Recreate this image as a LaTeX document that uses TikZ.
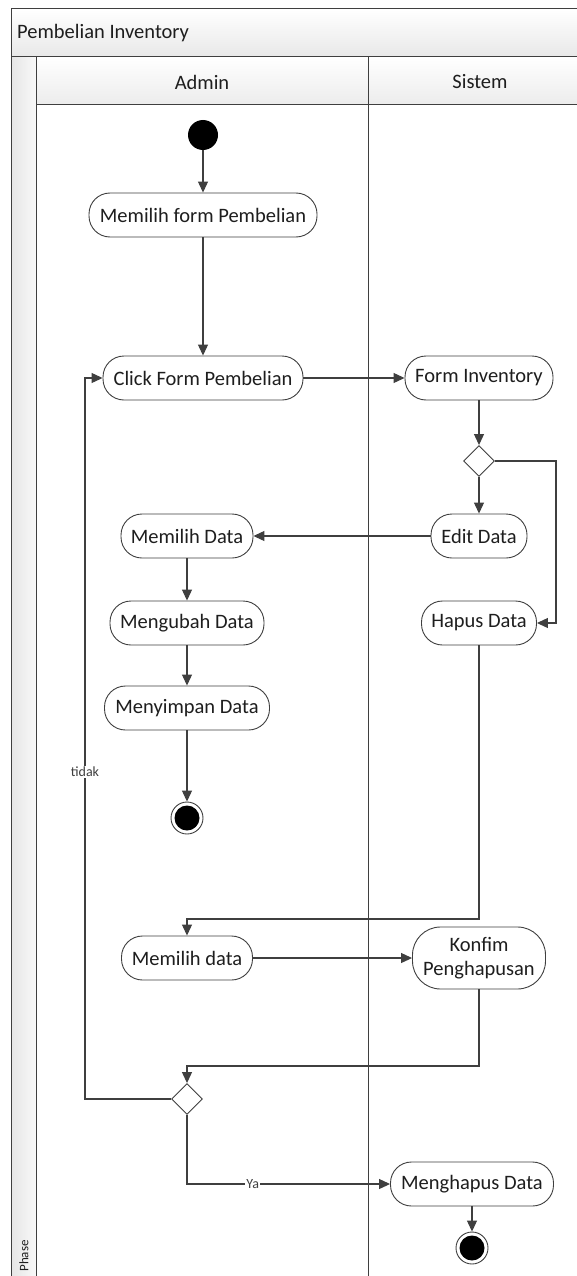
\documentclass[tikz,border=0pt]{standalone}
\usepackage{fontspec}
\setmainfont{Carlito}
\usetikzlibrary{arrows.meta, shapes.geometric}
\definecolor{garis}{HTML}{3F3F3F}
\definecolor{teks}{HTML}{1E1E1E}

\begin{document}
\begin{tikzpicture}[x=1pt, y=-1pt, >={Triangle[length=11pt,width=10pt]},
    aksi/.style={draw=garis, line width=0.9pt, fill=white, rectangle, rounded corners=21pt,
        minimum height=44pt, inner sep=0pt, align=center, text=teks,
        font=\fontsize{20.5}{24}\selectfont},
    keputusan/.style={draw=garis, line width=0.9pt, fill=white, diamond, aspect=1,
        minimum width=31pt, minimum height=31pt, inner sep=0pt},
    mulai/.style={circle, fill=black, minimum size=30pt, inner sep=0pt},
    akhir/.style={circle, draw=garis, line width=0.9pt, fill=white, minimum size=32pt, inner sep=0pt,
        path picture={\fill[black] (path picture bounding box.center) circle (12.5pt);}},
    alur/.style={draw=garis, line width=1.1pt, ->},
    tanda/.style={fill=white, inner sep=1pt, text=garis, font=\fontsize{14}{16}\selectfont},
    judul/.style={text=teks, font=\fontsize{20.5}{24}\selectfont}]
    \useasboundingbox (0,0) rectangle (577,1276);

    % kerangka swimlane
    \shade[top color=white, bottom color=gray!18, draw=garis, line width=1pt] (11,9) rectangle (600,57);
    \shade[left color=gray!20, right color=gray!5, draw=garis, line width=1pt] (11,57) rectangle (36,1300);
    \shade[top color=white, bottom color=gray!15, draw=garis, line width=1pt] (36,57) rectangle (600,105);
    \draw[garis, line width=1pt] (368,57) -- (368,1300);
    \node[judul, anchor=west, inner sep=0pt] (proses) at (17,33) {Pembelian Inventory};
    \node[judul] (laneAdmin) at (202,82) {Admin};
    \node[judul] (laneSistem) at (480,82) {Sistem};
    \node[rotate=90, text=teks, font=\fontsize{13}{15}\selectfont] (fase) at (24,1256) {Phase};

    % aktivitas
    \node[mulai] (start) at (203,135) {};
    \node[aksi, minimum width=228pt] (pilihForm) at (203,215) {Memilih form Pembelian};
    \node[aksi, minimum width=200pt] (clickForm) at (203,378) {Click Form Pembelian};
    \node[aksi, minimum width=148pt] (formInv) at (479,378) {Form Inventory};
    \node[keputusan] (dec1) at (479,461) {};
    \node[aksi, minimum width=96pt] (editData) at (479,536) {Edit Data};
    \node[aksi, minimum width=132pt] (pilihData) at (187,536) {Memilih Data};
    \node[aksi, minimum width=115pt] (hapusData) at (479,623) {Hapus Data};
    \node[aksi, minimum width=154pt] (ubahData) at (187,623) {Mengubah Data};
    \node[aksi, minimum width=165pt] (simpanData) at (187,708) {Menyimpan Data};
    \node[akhir] (end1) at (187,818) {};
    \node[aksi, minimum width=131pt] (pilihData2) at (187,958) {Memilih data};
    \node[aksi, minimum width=133pt, minimum height=62pt, rounded corners=28pt] (konfim) at (479,958) {Konfim\\Penghapusan};
    \node[keputusan] (dec2) at (187,1099) {};
    \node[aksi, minimum width=163pt] (hapusAkhir) at (472,1184) {Menghapus Data};
    \node[akhir] (end2) at (472,1248) {};

    % alur lurus
    \foreach \a/\b in {start/pilihForm, pilihForm/clickForm, clickForm/formInv, formInv/dec1,
        dec1/editData, editData/pilihData, pilihData/ubahData, ubahData/simpanData,
        simpanData/end1, pilihData2/konfim, hapusAkhir/end2} {
        \draw[alur] (\a) -- (\b);
    }

    % alur berbelok
    \coordinate (belokKanan) at (556,461);
    \draw[alur] (dec1.east) -- (belokKanan) |- (hapusData.east);
    \coordinate (belokHapus) at (187,919);
    \draw[alur] (hapusData.south) |- (belokHapus) -- (pilihData2.north);
    \coordinate (belokKonfim) at (187,1066);
    \draw[alur] (konfim.south) |- (belokKonfim) -- (dec2.north);
    \coordinate (belokTidak) at (85,1099);
    \draw[alur] (dec2.west) -- (belokTidak) |- node[tanda, pos=0.227] (lblTidak) {tidak} (clickForm.west);
    \draw[alur] (dec2.south) |- node[tanda, pos=0.662] (lblYa) {Ya} (hapusAkhir.west);
\end{tikzpicture}
\end{document}
